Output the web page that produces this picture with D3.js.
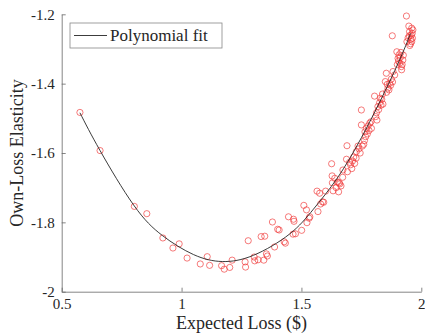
<!DOCTYPE html>
<html>
<head>
<meta charset="utf-8">
<script src="https://cdn.jsdelivr.net/npm/d3@7"></script>
<style>
  body { margin: 0; background: #fff; }
  svg text { font-family: "Liberation Serif", "DejaVu Serif", serif; fill: #262626; }
</style>
</head>
<body>
<svg id="chart"></svg>
<script>
// scatter points (expected loss, own-loss elasticity)
const lossX = [
  0.576, 0.660, 0.803, 0.855, 0.922, 0.964, 0.990, 1.023, 1.078, 1.107,
  1.117, 1.167, 1.178, 1.201, 1.211, 1.265, 1.267, 1.278, 1.303, 1.305,
  1.319, 1.332, 1.347, 1.343, 1.354, 1.358, 1.379, 1.388, 1.401, 1.407,
  1.428, 1.433, 1.446, 1.467, 1.469, 1.465, 1.475, 1.501, 1.510, 1.521,
  1.523, 1.532, 1.535, 1.565, 1.569, 1.576, 1.580, 1.588, 1.601, 1.593,
  1.626, 1.628, 1.629, 1.632, 1.639, 1.650, 1.657, 1.660, 1.673, 1.688,
  1.690, 1.692, 1.701, 1.705, 1.713, 1.718, 1.729, 1.736, 1.740, 1.750,
  1.750, 1.754, 1.763, 1.765, 1.768, 1.771, 1.778, 1.785, 1.792, 1.805,
  1.810, 1.813, 1.819, 1.826, 1.829, 1.838, 1.840, 1.854, 1.850, 1.861,
  1.868, 1.875, 1.879, 1.882, 1.889, 1.898, 1.903, 1.907, 1.910, 1.917,
  1.923, 1.938, 1.940, 1.948, 1.951, 1.958, 1.963, 1.965, 1.960,
  1.950, 1.957, 1.962, 1.955, 1.945, 1.960, 1.952,
  1.912, 1.915, 1.920, 1.905, 1.925, 1.918, 1.900,
  1.858, 1.865, 1.872, 1.880, 1.855,
  1.822, 1.832, 1.815, 1.835,
  1.775, 1.782, 1.760, 1.790,
  1.722, 1.728, 1.710, 1.745,
  1.645, 1.665, 1.672, 1.655
];
const elasticityY = [
  -1.483, -1.593, -1.754, -1.775, -1.845, -1.874, -1.862, -1.903, -1.920, -1.899,
  -1.924, -1.925, -1.935, -1.930, -1.909, -1.914, -1.929, -1.853, -1.900, -1.911,
  -1.908, -1.841, -1.840, -1.909, -1.891, -1.897, -1.799, -1.871, -1.820, -1.822,
  -1.856, -1.860, -1.784, -1.791, -1.797, -1.834, -1.833, -1.823, -1.751, -1.764,
  -1.801, -1.788, -1.784, -1.710, -1.769, -1.716, -1.747, -1.741, -1.710, -1.742,
  -1.631, -1.666, -1.686, -1.709, -1.673, -1.684, -1.686, -1.689, -1.649, -1.618,
  -1.579, -1.654, -1.627, -1.634, -1.623, -1.612, -1.596, -1.580, -1.588, -1.476,
  -1.519, -1.580, -1.564, -1.539, -1.553, -1.529, -1.522, -1.514, -1.529, -1.436,
  -1.495, -1.484, -1.466, -1.455, -1.442, -1.430, -1.459, -1.370, -1.394, -1.413,
  -1.399, -1.387, -1.262, -1.365, -1.375, -1.308, -1.327, -1.317, -1.341, -1.351,
  -1.332, -1.205, -1.279, -1.234, -1.250, -1.260, -1.269, -1.245, -1.279,
  -1.262, -1.272, -1.255, -1.285, -1.268, -1.240, -1.290,
  -1.325, -1.310, -1.345, -1.335, -1.318, -1.360, -1.345,
  -1.402, -1.418, -1.405, -1.395, -1.425,
  -1.475, -1.462, -1.505, -1.445,
  -1.545, -1.535, -1.575, -1.510,
  -1.630, -1.615, -1.645, -1.600,
  -1.700, -1.695, -1.670, -1.712
];

// polynomial fit curve
const fitX = [0.576, 0.66, 0.80, 0.92, 1.05, 1.17, 1.30, 1.45, 1.55, 1.65, 1.75, 1.85, 1.92, 1.955];
const fitY = [-1.484, -1.593, -1.750, -1.838, -1.893, -1.913, -1.895, -1.834, -1.762, -1.672, -1.556, -1.420, -1.315, -1.255];

const xTicks = [0.5, 1, 1.5, 2];
const xTickLabels = ["0.5", "1", "1.5", "2"];
const yTicks = [-2, -1.8, -1.6, -1.4, -1.2];
const yTickLabels = ["-2", "-1.8", "-1.6", "-1.4", "-1.2"];

const width = 425, height = 335;
const margin = { top: 14.3, right: 3.7, bottom: 43.3, left: 61.7 };
const w = width - margin.left - margin.right;
const h = height - margin.top - margin.bottom;

const x = d3.scaleLinear().domain([0.5, 2]).range([0, w]);
const y = d3.scaleLinear().domain([-2, -1.2]).range([h, 0]);

const svg = d3.select("#chart").attr("width", width).attr("height", height);
const g = svg.append("g").attr("transform", `translate(${margin.left},${margin.top})`);

// axes (ticks point inward, MATLAB style)
const xAxis = g.append("g")
  .attr("transform", `translate(0,${h})`)
  .call(d3.axisBottom(x).tickValues(xTicks)
    .tickFormat((d, i) => xTickLabels[i])
    .tickSizeInner(-4).tickSizeOuter(0).tickPadding(7));

const yAxis = g.append("g")
  .call(d3.axisLeft(y).tickValues(yTicks)
    .tickFormat((d, i) => yTickLabels[i])
    .tickSizeInner(-4).tickSizeOuter(0).tickPadding(7));

[xAxis, yAxis].forEach(a => {
  a.attr("font-family", "Liberation Serif").attr("font-size", 15);
  a.select(".domain").attr("stroke", "#666").attr("stroke-width", 0.8);
  a.selectAll(".tick line").attr("stroke", "#666").attr("stroke-width", 0.8);
  a.selectAll(".tick text").attr("fill", "#262626");
});

// scatter
const pts = lossX.map((v, i) => ({ x: v, y: elasticityY[i] }));
g.selectAll(".dot")
  .data(pts)
  .enter()
  .append("circle")
  .attr("class", "dot")
  .attr("cx", d => x(d.x))
  .attr("cy", d => y(d.y))
  .attr("r", 3.1)
  .attr("fill", "none")
  .attr("stroke", "#f03030")
  .attr("stroke-opacity", 0.8)
  .attr("stroke-width", 0.8);

// fit line
const fit = fitX.map((v, i) => ({ x: v, y: fitY[i] }));
const line = d3.line()
  .x(d => x(d.x))
  .y(d => y(d.y))
  .curve(d3.curveNatural);

g.append("path")
  .datum(fit)
  .attr("d", line)
  .attr("fill", "none")
  .attr("stroke", "#262626")
  .attr("stroke-width", 0.9);

// axis labels
svg.append("text")
  .attr("x", margin.left + w / 2)
  .attr("y", 329)
  .attr("text-anchor", "middle")
  .style("font-size", "18px")
  .text("Expected Loss ($)");

svg.append("text")
  .attr("transform", `translate(23,${margin.top + h / 2}) rotate(-90)`)
  .attr("text-anchor", "middle")
  .style("font-size", "18px")
  .text("Own-Loss Elasticity");

// legend
const legend = svg.append("g").attr("transform", "translate(70,23)");
legend.append("rect")
  .attr("width", 152)
  .attr("height", 25)
  .attr("fill", "#fff")
  .attr("stroke", "#888")
  .attr("stroke-width", 0.8);
legend.append("line")
  .attr("x1", 4).attr("x2", 37)
  .attr("y1", 12.5).attr("y2", 12.5)
  .attr("stroke", "#262626")
  .attr("stroke-width", 0.9);
legend.append("text")
  .attr("x", 40)
  .attr("y", 18)
  .style("font-size", "17px")
  .text("Polynomial fit");
</script>
</body>
</html>
